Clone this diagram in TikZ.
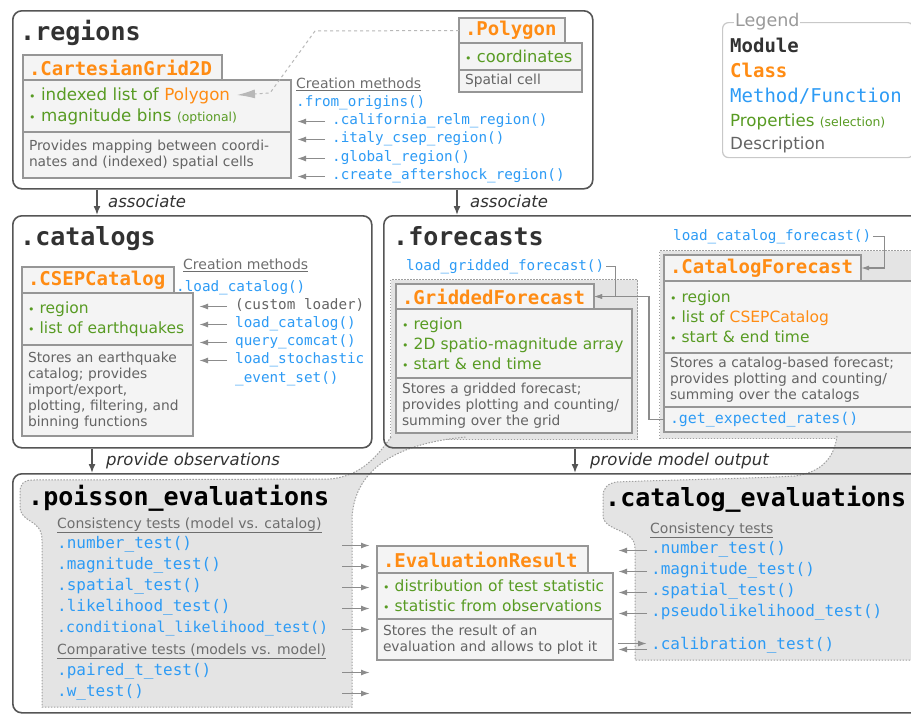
\documentclass[tikz,border=0pt]{standalone}
\usepackage{fontspec}
\setmainfont{DejaVu Sans}
\setmonofont{DejaVu Sans Mono}
\usetikzlibrary{arrows.meta}

\definecolor{clsorange}{RGB}{255,140,20}
\definecolor{mthblue}{RGB}{45,155,245}
\definecolor{propgreen}{RGB}{88,155,35}
\definecolor{descgray}{RGB}{100,100,100}
\definecolor{notegray}{RGB}{110,110,110}
\definecolor{modgray}{RGB}{50,50,50}
\definecolor{modline}{RGB}{85,85,85}
\definecolor{boxfill}{RGB}{244,244,244}
\definecolor{boxline}{RGB}{150,150,150}
\definecolor{grpfill}{RGB}{228,228,228}
\definecolor{grpline}{RGB}{160,160,160}
\definecolor{arrgray}{RGB}{140,140,140}
\definecolor{legline}{RGB}{200,200,200}

\newcommand\modfont{\ttfamily\bfseries\fontsize{25}{28}\selectfont}
\newcommand\clsfont{\ttfamily\bfseries\fontsize{19}{22}\selectfont}
\newcommand\mthfont{\ttfamily\fontsize{14.3}{18}\selectfont}
\newcommand\evfont{\ttfamily\fontsize{16}{20}\selectfont}
\newcommand\propfont{\fontsize{15.5}{20}\selectfont}
\newcommand\descfont{\fontsize{13.8}{16}\selectfont}
\newcommand\notefont{\fontsize{14}{17}\selectfont}
\newcommand\optfont{\fontsize{12.4}{14}\selectfont}
\newcommand\legfont{\fontsize{16.7}{20}\selectfont}
\newcommand\bandfont{\itshape\fontsize{16.5}{20}\selectfont}
\newcommand\bul{{\fontsize{11}{11}\selectfont\textbullet}\ }

\tikzset{
  modbox/.style={draw=modline, line width=1.6pt, rounded corners=9pt, anchor=north west, inner sep=0pt},
  grpbox/.style={draw=grpline, fill=grpfill, line width=1pt, dash pattern=on 1.5pt off 1.5pt, anchor=north west, inner sep=0pt},
  funnelline/.style={draw=grpline, line width=1pt, dash pattern=on 1.5pt off 1.5pt},
  clsbox/.style={draw=boxline, fill=boxfill, line width=1.2pt, anchor=north west, inner xsep=6pt, inner ysep=0pt, outer sep=0pt, align=left},
  hdrbox/.style={clsbox, font=\clsfont, text=clsorange},
  propbox/.style={clsbox, font=\propfont, text=propgreen},
  descbox/.style={clsbox, font=\descfont, text=descgray},
  mthtxt/.style={anchor=mid west, inner sep=0pt, yshift=-3.5pt, font=\mthfont, text=mthblue},
  evm/.style={mthtxt, font=\evfont},
  modtitle/.style={anchor=mid west, inner sep=0pt, yshift=-6pt, font=\modfont, text=modgray},
  notetxt/.style={anchor=mid west, inner sep=0pt, yshift=-3.5pt, font=\notefont, text=notegray},
  bandtxt/.style={anchor=mid west, inner sep=0pt, yshift=-3.5pt, font=\bandfont, text=modgray},
  legtxt/.style={anchor=mid west, inner sep=0pt, yshift=-4pt},
  flowarrow/.style={draw=modline, line width=1.5pt, -{Latex[length=9pt,width=7pt]}},
  tiparrow/.style={draw=arrgray, line width=1.5pt, -{Latex[length=9pt,width=6pt]}},
  conn/.style={draw=arrgray, line width=1.2pt, -{Latex[length=8pt,width=5pt]}},
}

\begin{document}
\begin{tikzpicture}[x=1pt, y=-1pt]

                    \useasboundingbox[fill=white] (0,0) rectangle (911,713);

                    \node[grpbox, minimum width=247pt, minimum height=160pt] (gridgrp) at (390,279) {};
                    \node[grpbox, minimum width=261pt, minimum height=188pt] (catgrp) at (659,250) {};

                    \fill[grpfill] (391,437) .. controls (378,455) and (362,476) .. (330,479) -- (32,480)
                        .. controls (24,480) and (20,484) .. (20,492) -- (20,506) .. controls (20,524) and (42,518) .. (42,540)
                        -- (42,707) -- (352,707) -- (352,518) .. controls (354,480) and (380,445) .. (466,437) -- cycle;
                    \draw[funnelline] (391,437) .. controls (378,455) and (362,476) .. (330,479) -- (32,480)
                        .. controls (24,480) and (20,484) .. (20,492) -- (20,506) .. controls (20,524) and (42,518) .. (42,540)
                        -- (42,707) -- (352,707) -- (352,518) .. controls (354,480) and (380,445) .. (466,437);

                    \fill[grpfill] (837,436) .. controls (834,458) and (822,472) .. (795,476) .. controls (740,479) and (660,480) .. (617,482)
                        .. controls (608,483) and (603,488) .. (603,496) -- (603,515) .. controls (603,532) and (635,528) .. (635,548)
                        -- (635,660) -- (920,660) -- (920,436) -- cycle;
                    \draw[funnelline] (837,436) .. controls (834,458) and (822,472) .. (795,476) .. controls (740,479) and (660,480) .. (617,482)
                        .. controls (608,483) and (603,488) .. (603,496) -- (603,515) .. controls (603,532) and (635,528) .. (635,548)
                        -- (635,660) -- (920,660);

                    \node[modbox, minimum width=580pt, minimum height=178pt] (regions) at (12,10) {};
                    \node[modbox, minimum width=359pt, minimum height=232pt] (catalogs) at (12,215) {};
                    \node[modbox, minimum width=537pt, minimum height=232pt] (forecasts) at (383,215) {};
                    \node[modbox, minimum width=908pt, minimum height=239pt] (evals) at (12,473) {};

                    \node[modtitle] (regtitle) at (20,32) {.regions};
                    \node[hdrbox, text width=187pt, minimum height=25pt] (gridhdr) at (23,55) {.CartesianGrid2D};
                    \node[propbox, font=\fontsize{16.7}{21}\selectfont, text width=256pt, minimum height=52pt] (gridprop) at (gridhdr.south west) {\bul indexed list of {\color{clsorange}Polygon}\\\bul magnitude bins {\optfont(optional)}};
                    \node[descbox, text width=256pt, minimum height=46pt] (griddesc) at (gridprop.south west) {Provides mapping between coordi-\\nates and (indexed) spatial cells};

                    \node[hdrbox, text width=94pt, minimum height=25pt] (polyhdr) at (459,18) {.Polygon};
                    \node[propbox, font=\fontsize{16.3}{20}\selectfont, text width=111pt, minimum height=27pt] (polyprop) at (polyhdr.south west) {\bul coordinates};
                    \node[descbox, text width=111pt, minimum height=22pt] (polydesc) at (polyprop.south west) {Spatial cell};

                    \coordinate (polyin) at (237,95);
                    \draw[draw=black!28, line width=1pt, dash pattern=on 3pt off 3pt, -{Latex[length=18pt,width=9pt]}] (polyhdr.west) -- (315,31) -- (270,93) -- (polyin);

                    \node[notetxt] (regcreate) at (296,82) {\underline{Creation methods}};
                    \node[mthtxt] (fromorig) at (296,100) {.from\_origins()};
                    \node[mthtxt] (calif) at (332,118) {.california\_relm\_region()};
                    \node[mthtxt] (italy) at (332,136) {.italy\_csep\_region()};
                    \node[mthtxt] (global) at (332,155) {.global\_region()};
                    \node[mthtxt] (aftershock) at (332,173) {.create\_aftershock\_region()};
                    \foreach \m in {calif,italy,global,aftershock}
                        \draw[tiparrow, shorten <=7pt, shorten >=6pt] (\m.mid west) -- (\m.mid west -| gridprop.east);

                    \node[draw=legline, line width=1.2pt, rounded corners=6pt, anchor=north west, minimum width=191pt, minimum height=135pt, inner sep=0pt] (legend) at (722,22) {};
                    \node[anchor=mid west, inner xsep=1pt, inner ysep=0pt, yshift=-3pt, fill=white, font=\fontsize{17.5}{20}\selectfont, text=black!40] (leglabel) at (734,21) {Legend};
                    \node[legtxt, font=\clsfont, text=modgray] (legmod) at (730,46) {Module};
                    \node[legtxt, font=\clsfont, text=clsorange] (legcls) at (730,71) {Class};
                    \node[legtxt, font=\ttfamily\fontsize{19}{22}\selectfont, text=mthblue] (legmth) at (730,96) {Method/Function};
                    \node[legtxt, font=\legfont, text=propgreen] (legprop) at (730,120) {Properties {\optfont(selection)}};
                    \node[legtxt, font=\legfont, text=descgray] (legdesc) at (730,143) {Description};

                    \coordinate (asc1) at (97,0);
                    \coordinate (asc2) at (457,0);
                    \draw[flowarrow] (regions.south -| asc1) -- (catalogs.north -| asc1);
                    \draw[flowarrow] (regions.south -| asc2) -- (forecasts.north -| asc2);
                    \node[bandtxt] (asclbl1) at (108,201) {associate};
                    \node[bandtxt] (asclbl2) at (470,201) {associate};

                    \node[modtitle] (cattitle) at (20,237) {.catalogs};
                    \node[hdrbox, text width=140pt, minimum height=26pt] (csephdr) at (22,267) {.CSEPCatalog};
                    \node[propbox, text width=159pt, minimum height=52pt] (cseprop) at (csephdr.south west) {\bul region\\\bul list of earthquakes};
                    \node[descbox, text width=159pt, minimum height=91pt] (csepdesc) at (cseprop.south west) {Stores an earthquake\\catalog; provides\\import/export,\\plotting, filtering, and\\binning functions};

                    \node[notetxt] (catcreate) at (183,263) {\underline{Creation methods}};
                    \node[mthtxt] (ldcatmain) at (176,285) {.load\_catalog()};
                    \node[mthtxt, text=descgray] (custom) at (235,303) {(custom loader)};
                    \node[mthtxt] (ldcat) at (235,321) {load\_catalog()};
                    \node[mthtxt] (comcat) at (235,339) {query\_comcat()};
                    \node[mthtxt] (stoch) at (235,357) {load\_stochastic};
                    \node[mthtxt] (stochb) at (235,376) {\_event\_set()};
                    \foreach \m in {custom,ldcat,comcat,stoch}
                        \draw[tiparrow, shorten <=8pt, shorten >=6pt] (\m.mid west) -- (\m.mid west -| cseprop.east);

                    \node[modtitle] (fctitle) at (393,237) {.forecasts};
                    \node[hdrbox, text width=186pt, minimum height=25pt] (gfhdr) at (396,284) {.GriddedForecast};
                    \node[propbox, text width=224pt, minimum height=69pt] (gfprop) at (gfhdr.south west) {\bul region\\\bul 2D spatio-magnitude array\\\bul start \& end time};
                    \node[descbox, text width=224pt, minimum height=55pt] (gfdesc) at (gfprop.south west) {Stores a gridded forecast;\\provides plotting and counting/\\summing over the grid};

                    \node[hdrbox, text width=185pt, minimum height=26pt] (cfhdr) at (664,255) {.CatalogForecast};
                    \node[propbox, text width=248pt, minimum height=72pt] (cfprop) at (cfhdr.south west) {\bul region\\\bul list of {\color{clsorange}CSEPCatalog}\\\bul start \& end time};
                    \node[descbox, text width=248pt, minimum height=54pt] (cfdesc) at (cfprop.south west) {Stores a catalog-based forecast;\\provides plotting and counting/\\summing over the catalogs};
                    \node[clsbox, font=\ttfamily\fontsize{14.9}{18}\selectfont, text=mthblue, text width=248pt, minimum height=25pt] (cfrates) at (cfdesc.south west) {.get\_expected\_rates()};

                    \node[mthtxt] (ldgrid) at (406,264) {load\_gridded\_forecast()};
                    \node[mthtxt] (ldcf) at (673,234) {load\_catalog\_forecast()};
                    \draw[conn] ([xshift=2pt]ldgrid.east) -- ++(9,0) |- (gfhdr.east);
                    \draw[conn] (cfrates.west) -- ++(-15,0) |- (gfhdr.east);
                    \draw[conn] ([xshift=2pt]ldcf.east) -- ++(11,0) |- (cfhdr.east);

                    \coordinate (obsx) at (92,0);
                    \coordinate (outx) at (575,0);
                    \draw[flowarrow] (catalogs.south -| obsx) -- (evals.north -| obsx);
                    \draw[flowarrow] (forecasts.south -| outx) -- (evals.north -| outx);
                    \node[bandtxt] (obslbl) at (106,459) {provide observations};
                    \node[bandtxt] (outlbl) at (590,459) {provide model output};

                    \node[modtitle, text=black] (poistitle) at (28,497) {.poisson\_evaluations};
                    \node[notetxt] (poiscons) at (57,522) {\underline{Consistency tests (model vs. catalog)}};
                    \node[evm] (numP) at (57,542) {.number\_test()};
                    \node[evm] (magP) at (57,563) {.magnitude\_test()};
                    \node[evm] (spaP) at (57,584) {.spatial\_test()};
                    \node[evm] (likP) at (57,605) {.likelihood\_test()};
                    \node[evm, font=\ttfamily\fontsize{15}{20}\selectfont] (condP) at (57,626) {.conditional\_likelihood\_test()};
                    \node[notetxt] (poiscomp) at (57,648) {\underline{Comparative tests (models vs. model)}};
                    \node[evm] (pairP) at (57,669) {.paired\_t\_test()};
                    \node[evm] (wP) at (57,690) {.w\_test()};

                    \node[hdrbox, text width=199pt, minimum height=27pt] (erhdr) at (377,546) {.EvaluationResult};
                    \node[propbox, text width=224pt, minimum height=46pt] (erprop) at (erhdr.south west) {\bul distribution of test statistic\\\bul statistic from observations};
                    \node[descbox, text width=224pt, minimum height=41pt] (erdesc) at (erprop.south west) {Stores the result of an\\evaluation and allows to plot it};

                    \coordinate (poisout) at (342,0);
                    \foreach \m in {numP,magP,spaP,likP,condP,pairP,wP}
                        \draw[tiparrow, shorten >=7pt] (\m.mid -| poisout) -- (\m.mid -| erhdr.west);

                    \node[modtitle, text=black] (cattitle2) at (605,498) {.catalog\_evaluations};
                    \node[notetxt] (catcons) at (650,527) {\underline{Consistency tests}};
                    \node[evm] (numC) at (651,547) {.number\_test()};
                    \node[evm] (magC) at (651,568) {.magnitude\_test()};
                    \node[evm] (spaC) at (651,589) {.spatial\_test()};
                    \node[evm] (pseC) at (651,610) {.pseudolikelihood\_test()};
                    \node[evm] (calC) at (651,643) {.calibration\_test()};
                    \foreach \m in {numC,magC,spaC,pseC}
                        \draw[tiparrow, shorten <=4pt, shorten >=5pt] (\m.mid west) -- (\m.mid west -| erprop.east);
                    \coordinate (calhi) at ([yshift=3pt]calC.mid west);
                    \coordinate (callo) at ([yshift=-3pt]calC.mid west);
                    \draw[tiparrow, shorten <=5pt, shorten >=4pt] (calhi -| erprop.east) -- (calhi);
                    \draw[tiparrow, shorten <=4pt, shorten >=5pt] (callo) -- (callo -| erprop.east);

\end{tikzpicture}
\end{document}
